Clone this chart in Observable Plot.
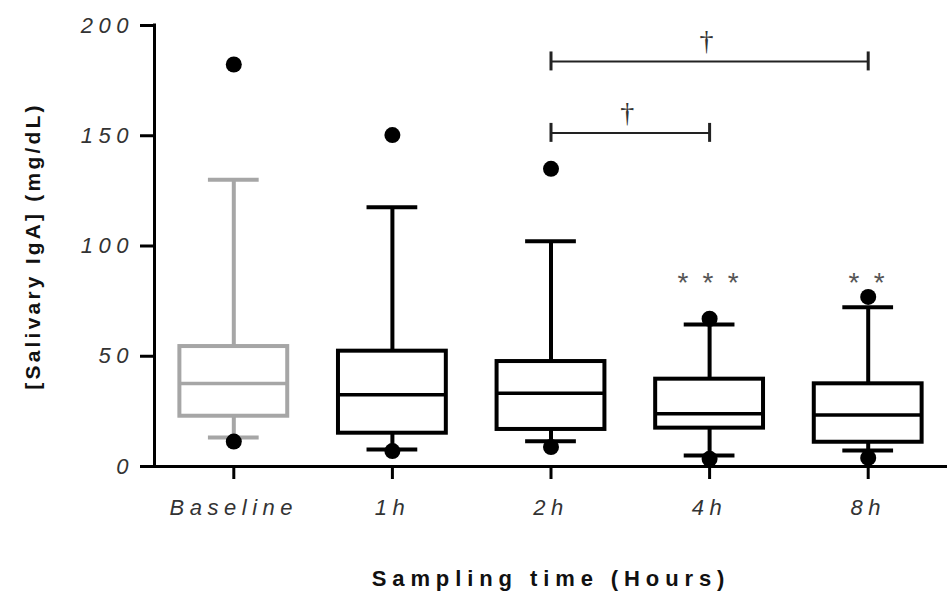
<!DOCTYPE html>
<html><head><meta charset="utf-8">
<script src="https://cdn.jsdelivr.net/npm/d3@7"></script>
<script src="https://cdn.jsdelivr.net/npm/@observablehq/plot@0.6"></script>
<style>
html,body{margin:0;padding:0;background:#fff;overflow:hidden}
#chart g[aria-label="x-axis tick label"] text,
#chart g[aria-label="y-axis tick label"] text {letter-spacing:5.5px}
#chart g[aria-description="stars"] text {letter-spacing:3.2px}
#chart g[aria-description="x-title"] text {letter-spacing:5.9px}
#chart g[aria-description="y-title"] text {letter-spacing:3.2px}
</style></head>
<body><div id="chart"></div>
<script>
// ---- data ----
const categories  = ["Baseline", "1h", "2h", "4h", "8h"];
const whiskerHigh = [130.0, 117.6, 102.2, 64.4, 72.2];
const q3          = [54.4, 52.3, 47.6, 39.6, 37.5];
const median      = [37.6, 32.5, 33.2, 23.9, 23.3];
const q1          = [22.8, 15.1, 16.8, 17.4, 11.0];
const whiskerLow  = [13.1, 7.7, 11.5, 5.0, 7.3];
const outlierHigh = [182.3, 150.3, 135.0, 67.0, 76.9];
const outlierLow  = [11.3, 7.0, 8.8, 3.5, 3.9];
const yTicks      = [0, 50, 100, 150, 200];
const bracketFrom  = ["2h", "2h"];
const bracketTo    = ["4h", "8h"];
const bracketY     = [151.3, 183.7];
const bracketLabel = ["\u2020", "\u2020"];
const starGroups = ["4h", "8h"];
const starLabels = ["* * *", "* *"];
const starY      = [83, 83];

// ---- derived tables ----
const idx = c => categories.indexOf(c);
const rows = categories.map((c, i) => ({i, c, hi: whiskerHigh[i], q3: q3[i], med: median[i], q1: q1[i], lo: whiskerLow[i]}));
const outliers = categories.flatMap((c, i) => [{i, v: outlierHigh[i]}, {i, v: outlierLow[i]}]);
const brackets = bracketFrom.map((f, k) => ({x1: idx(f), x2: idx(bracketTo[k]), y: bracketY[k], label: bracketLabel[k]}));
const bracketEnds = brackets.flatMap(b => [{x: b.x1, y: b.y}, {x: b.x2, y: b.y}]);
const stars = starGroups.map((g, k) => ({x: idx(g), y: starY[k], label: starLabels[k]}));

const BOX = 0.34, CAP = 0.16, END = 4.3;
const color = d => d.i === 0 ? "#a6a6a6" : "#000";
const font = "'Liberation Sans', Arial, sans-serif";
const SW = 4;

const chart = Plot.plot({
  width: 947, height: 597,
  marginLeft: 154, marginRight: 0, marginTop: 25, marginBottom: 131,
  x: {type: "linear", domain: [-0.5, categories.length - 0.5], label: null},
  y: {domain: [0, 200], label: null},
  color: {type: "identity"},
  style: {fontFamily: font, background: "#fff", color: "#000"},
  marks: [
    // whiskers
    Plot.ruleX(rows, {x: "i", y1: "q3", y2: "hi", stroke: color, strokeWidth: SW}),
    Plot.ruleX(rows, {x: "i", y1: "lo", y2: "q1", stroke: color, strokeWidth: SW}),
    Plot.ruleY(rows, {y: "hi", x1: d => d.i - CAP, x2: d => d.i + CAP, stroke: color, strokeWidth: SW}),
    Plot.ruleY(rows, {y: "lo", x1: d => d.i - CAP, x2: d => d.i + CAP, stroke: color, strokeWidth: SW}),
    // boxes
    Plot.rect(rows, {x1: d => d.i - BOX, x2: d => d.i + BOX, y1: "q1", y2: "q3", fill: "#fff", stroke: color, strokeWidth: SW}),
    Plot.ruleY(rows, {y: "med", x1: d => d.i - BOX, x2: d => d.i + BOX, stroke: color, strokeWidth: 3.5}),
    // outliers
    Plot.dot(outliers, {x: "i", y: "v", r: 8, fill: "#000", stroke: null}),
    // significance brackets
    Plot.ruleY(brackets, {y: "y", x1: "x1", x2: "x2", stroke: "#222", strokeWidth: 2}),
    Plot.ruleX(bracketEnds, {x: "x", y1: d => d.y - END, y2: d => d.y + END, stroke: "#222", strokeWidth: 3}),
    Plot.text(brackets, {x: d => (d.x1 + d.x2) / 2, y: "y", text: "label", dy: -20, dx: -3, fontSize: 28, fontFamily: "'Liberation Serif', serif", fill: "#333"}),
    Plot.text(stars, {x: "x", y: "y", text: "label", fontSize: 28, fill: "#555", ariaDescription: "stars"}),
    // axes
    Plot.ruleX([-0.5], {x: d => d, y1: 0, y2: 200, stroke: "#000", strokeWidth: 3, strokeLinecap: "square"}),
    Plot.ruleY([0], {y: d => d, stroke: "#000", strokeWidth: 3}),
    Plot.axisY({ticks: yTicks, tickSize: 14, tickPadding: 6.5, strokeWidth: 3, stroke: "#000", fill: "#333",
      fontSize: 22, fontStyle: "italic", label: null}),
    Plot.axisX({ticks: categories.map((c, i) => i), tickFormat: i => categories[i], tickSize: 13, tickPadding: 20,
      strokeWidth: 3, stroke: "#000", fill: "#333", fontSize: 22, fontStyle: "italic", label: null}),
    // axis titles
    Plot.text(["Sampling time (Hours)"], {frameAnchor: "bottom", dy: 112, text: d => d, textAnchor: "middle", lineAnchor: "middle",
      fontSize: 22, fontWeight: "bold", fill: "#111", ariaDescription: "x-title"}),
    Plot.text(["[Salivary IgA] (mg/dL)"], {frameAnchor: "left", dx: -121, rotate: -90, text: d => d, textAnchor: "middle", lineAnchor: "middle",
      fontSize: 21, fontWeight: "bold", fill: "#111", ariaDescription: "y-title"})
  ]
});
document.getElementById("chart").append(chart);
</script>
</body></html>
